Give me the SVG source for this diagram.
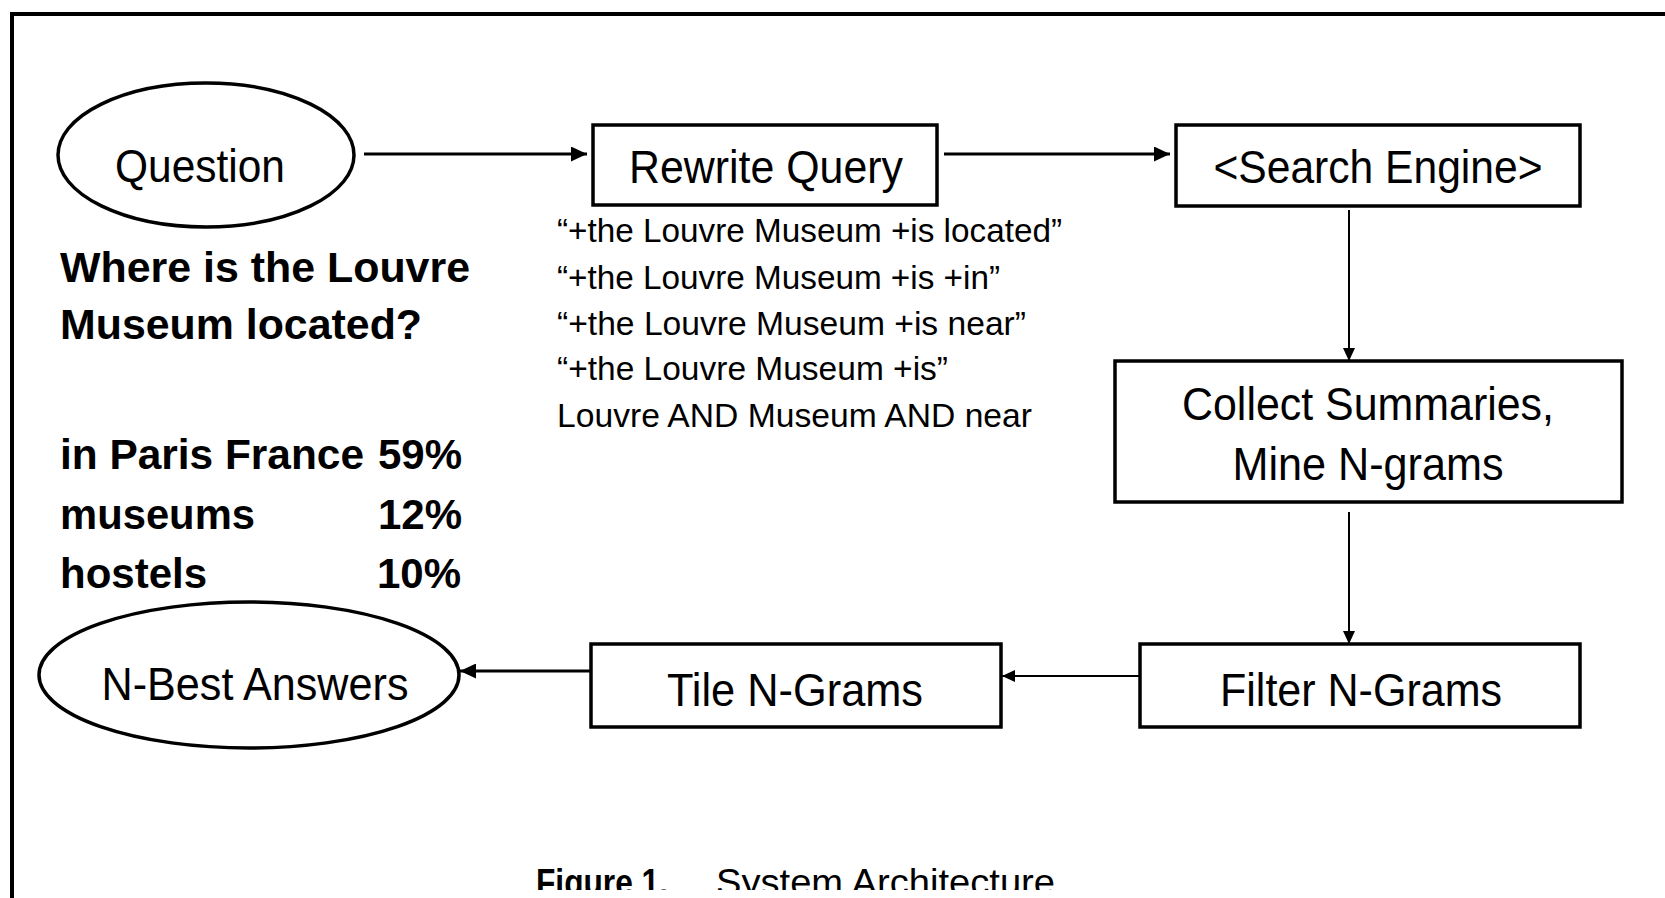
<svg xmlns="http://www.w3.org/2000/svg" width="1665" height="898" viewBox="0 0 1665 898">
  <style>
    .shape { fill: #fff; stroke: #000; stroke-width: 3.5; }
    .label { font-family: "Liberation Sans", Arial, sans-serif; font-size: 46px; fill: #000; }
    .query { font-family: "Liberation Sans", Arial, sans-serif; font-size: 33px; fill: #000; }
    .bold { font-family: "Liberation Sans", Arial, sans-serif; font-size: 42px; font-weight: bold; fill: #000; }
    .caption { font-family: "Liberation Sans", Arial, sans-serif; font-size: 36px; fill: #000; }
    .wire { fill: none; stroke: #000; stroke-width: 3; }
    .wire-thin { fill: none; stroke: #000; stroke-width: 2; }
  </style>
  <defs>
    <marker id="head" markerUnits="userSpaceOnUse" markerWidth="17" markerHeight="15" refX="16" refY="7.5" orient="auto">
      <path d="M0,0 L16,7.5 L0,15 Z" fill="#000"/>
    </marker>
    <marker id="head-s" markerUnits="userSpaceOnUse" markerWidth="14" markerHeight="14" refX="13" refY="7" orient="auto">
      <path d="M0,1 L13,7 L0,13 Z" fill="#000"/>
    </marker>
    <clipPath id="caption-clip">
      <rect x="0" y="0" width="1665" height="890"/>
    </clipPath>
  </defs>

  <rect x="0" y="0" width="1665" height="898" fill="#fff"/>

  <!-- outer frame: left and top edges -->
  <path d="M12,898 V14 H1665" fill="none" stroke="#000" stroke-width="4"/>

  <!-- connectors -->
  <g id="connectors">
    <path class="wire" d="M364,154 H587" marker-end="url(#head)"/>
    <path class="wire" d="M944,154 H1170" marker-end="url(#head)"/>
    <path class="wire-thin" d="M1349,210 V361" marker-end="url(#head-s)"/>
    <path class="wire-thin" d="M1349,512 V644" marker-end="url(#head-s)"/>
    <path class="wire-thin" d="M1140,676 H1002" marker-end="url(#head-s)"/>
    <path class="wire" d="M591,671 H460" marker-end="url(#head)"/>
  </g>

  <g id="question">
    <ellipse class="shape" cx="206" cy="155" rx="148" ry="72"/>
    <text class="label" x="200" y="182" text-anchor="middle" textLength="170" lengthAdjust="spacingAndGlyphs">Question</text>
  </g>

  <g id="rewrite-query">
    <rect class="shape" x="593" y="125" width="344" height="80"/>
    <text class="label" x="766" y="183" text-anchor="middle" textLength="274" lengthAdjust="spacingAndGlyphs">Rewrite Query</text>
  </g>

  <g id="search-engine">
    <rect class="shape" x="1176" y="125" width="404" height="81"/>
    <text class="label" x="1378" y="183" text-anchor="middle" textLength="329" lengthAdjust="spacingAndGlyphs">&lt;Search Engine&gt;</text>
  </g>

  <g id="collect-summaries">
    <rect class="shape" x="1115" y="361" width="507" height="141"/>
    <text class="label" x="1368" y="420" text-anchor="middle" textLength="372" lengthAdjust="spacingAndGlyphs">Collect Summaries,</text>
    <text class="label" x="1368" y="480" text-anchor="middle" textLength="271" lengthAdjust="spacingAndGlyphs">Mine N-grams</text>
  </g>

  <g id="filter-ngrams">
    <rect class="shape" x="1140" y="644" width="440" height="83"/>
    <text class="label" x="1361" y="706" text-anchor="middle" textLength="282" lengthAdjust="spacingAndGlyphs">Filter N-Grams</text>
  </g>

  <g id="tile-ngrams">
    <rect class="shape" x="591" y="644" width="410" height="83"/>
    <text class="label" x="795" y="706" text-anchor="middle" textLength="256" lengthAdjust="spacingAndGlyphs">Tile N-Grams</text>
  </g>

  <g id="n-best-answers">
    <ellipse class="shape" cx="249" cy="675" rx="210" ry="73"/>
    <text class="label" x="255" y="700" text-anchor="middle" textLength="307" lengthAdjust="spacingAndGlyphs">N-Best Answers</text>
  </g>

  <!-- rewrites produced from the question -->
  <g id="rewrites">
    <text class="query" x="557" y="242" textLength="505" lengthAdjust="spacingAndGlyphs">“+the Louvre Museum +is located”</text>
    <text class="query" x="557" y="289" textLength="443" lengthAdjust="spacingAndGlyphs">“+the Louvre Museum +is +in”</text>
    <text class="query" x="557" y="335" textLength="469" lengthAdjust="spacingAndGlyphs">“+the Louvre Museum +is near”</text>
    <text class="query" x="557" y="380" textLength="391" lengthAdjust="spacingAndGlyphs">“+the Louvre Museum +is”</text>
    <text class="query" x="557" y="427" textLength="475" lengthAdjust="spacingAndGlyphs">Louvre AND Museum AND near</text>
  </g>

  <!-- example question and scored answers -->
  <g id="example-question">
    <text class="bold" x="60" y="282" textLength="410" lengthAdjust="spacingAndGlyphs">Where is the Louvre</text>
    <text class="bold" x="60" y="339" textLength="362" lengthAdjust="spacingAndGlyphs">Museum located?</text>
  </g>

  <g id="example-answers">
    <text class="bold" x="60" y="469" textLength="304" lengthAdjust="spacingAndGlyphs">in Paris France</text>
    <text class="bold" x="462" y="469" text-anchor="end">59%</text>
    <text class="bold" x="60" y="529" textLength="195" lengthAdjust="spacingAndGlyphs">museums</text>
    <text class="bold" x="462" y="529" text-anchor="end">12%</text>
    <text class="bold" x="60" y="588" textLength="147" lengthAdjust="spacingAndGlyphs">hostels</text>
    <text class="bold" x="461" y="588" text-anchor="end">10%</text>
  </g>

  <g id="caption" clip-path="url(#caption-clip)">
    <text class="caption" x="536" y="895" font-weight="bold" textLength="132" lengthAdjust="spacingAndGlyphs">Figure 1.</text>
    <text class="caption" x="716" y="895" textLength="339" lengthAdjust="spacingAndGlyphs">System Architecture</text>
  </g>
</svg>
